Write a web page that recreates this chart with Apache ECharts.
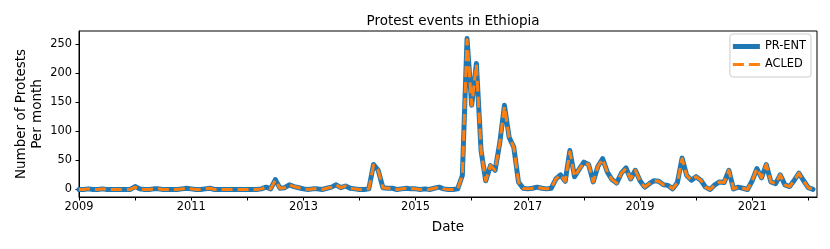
<!DOCTYPE html>
<html>
<head>
<meta charset="utf-8">
<script src="https://cdn.jsdelivr.net/npm/echarts@6/dist/echarts.min.js"></script>
<style>
html,body{margin:0;padding:0;background:#fff;}
#c{width:830px;height:249px;}
</style>
</head>
<body>
<div id="c"></div>
<script>
// Monthly protest counts, Jan 2009 .. Feb 2022
const firstMonth = '2009-01';
const prEnt = [
  0,0,1,0,0,1,0,0,0,0,0,0,
  5,1,0,0,1,1,0,0,0,0,1,2,
  1,0,0,1,2,0,0,0,0,0,0,0,
  0,0,0,1,4,1,17,2,3,8,5,3,
  1,0,1,1,0,2,4,8,3,6,2,1,
  0,0,1,43,33,3,2,2,0,1,2,1,
  1,0,1,0,2,4,1,0,0,1,24,260,
  145,217,67,15,41,33,80,145,90,73,13,2,
  1,2,4,2,1,2,18,25,14,67,22,35,
  47,43,13,40,53,30,17,11,28,37,18,33,
  15,4,10,15,14,8,7,1,12,54,24,16,
  22,16,4,0,8,13,12,33,1,4,2,0,
  15,36,20,43,13,10,25,8,5,16,28,15,
  3,0
];
const acled = [
  0,0,1,0,0,1,0,0,0,0,0,0,
  4,1,0,0,1,1,0,0,0,0,1,2,
  1,0,0,1,2,0,0,0,0,0,0,0,
  0,0,0,1,4,1,16,2,3,8,5,3,
  1,0,1,1,0,2,4,8,3,6,2,1,
  0,0,1,42,33,3,2,2,0,1,2,1,
  1,0,1,0,2,4,1,0,0,1,24,258,
  145,215,67,15,41,33,80,143,90,73,13,2,
  1,2,4,2,1,2,18,25,14,65,22,35,
  46,43,13,40,52,30,17,11,28,36,18,33,
  15,4,10,15,14,8,7,1,12,53,24,16,
  22,16,4,0,8,13,12,33,1,4,2,0,
  15,36,20,43,13,10,25,8,5,16,28,15,
  3,0
];
const xTickYears = [2009,2010,2011,2012,2013,2014,2015,2016,2017,2018,2019,2020,2021,2022];
const xTickLabels = [2009,2011,2013,2015,2017,2019,2021];
const yTicks = [0,50,100,150,200,250];

// month strings -> fractional year positions
const [y0, m0] = firstMonth.split('-').map(Number);
const dates = prEnt.map((_, i) => {
  const t = (m0 - 1) + i;
  const y = y0 + Math.floor(t / 12), m = (t % 12) + 1;
  return y + '-' + String(m).padStart(2, '0');
});
const toX = d => { const [y, m] = d.split('-').map(Number); return y + (m - 1) / 12; };

const font = 'DejaVu Sans';
const chart = echarts.init(document.getElementById('c'), null, {renderer: 'canvas'});
chart.setOption({
  animation: false,
  backgroundColor: '#fff',
  title: {
    text: 'Protest events in Ethiopia',
    left: 448, top: 9, textAlign: 'center',
    textStyle: {fontFamily: font, fontSize: 13.5, fontWeight: 'normal', color: '#000'}
  },
  legend: {
    right: 19, top: 34, orient: 'vertical',
    itemWidth: 27, itemHeight: 5, itemGap: 3,
    padding: [5, 5, 5, 3],
    borderColor: '#cccccc', borderWidth: 1, borderRadius: 3,
    backgroundColor: 'rgba(255,255,255,0.8)',
    textStyle: {fontFamily: font, fontSize: 11.4, color: '#000', lineHeight: 15},
    data: [
      {name: 'PR-ENT', icon: 'rect'},
      {name: 'ACLED', icon: 'path://M0,0h11v3h-11z M16,0h11v3h-11z'}
    ]
  },
  grid: {left: 79, right: 13, top: 31, bottom: 52, show: true, borderColor: '#000', borderWidth: 1, backgroundColor: 'transparent'},
  xAxis: {
    type: 'value', min: 2009, max: 2022.155,
    name: 'Date', nameLocation: 'middle', nameGap: 23, nameMoveOverlap: false,
    nameTextStyle: {fontFamily: font, fontSize: 13.5, color: '#000'},
    axisLine: {show: true, onZero: false, lineStyle: {color: '#000', width: 1}},
    axisTick: {show: true, length: 3.5, lineStyle: {color: '#000'}, customValues: xTickYears},
    axisLabel: {fontFamily: font, fontSize: 11.4, color: '#000', margin: 5, customValues: xTickLabels, formatter: v => String(v)},
    splitLine: {show: false}
  },
  yAxis: {
    type: 'value', min: -13, max: 273,
    name: 'Number of Protests\nPer month', nameLocation: 'middle', nameGap: 34, nameRotate: 90, nameMoveOverlap: false,
    nameTextStyle: {fontFamily: font, fontSize: 13.5, color: '#000', lineHeight: 16, align: 'center'},
    axisLine: {show: true, onZero: false, lineStyle: {color: '#000', width: 1}},
    axisTick: {show: true, length: 3.5, lineStyle: {color: '#000'}, customValues: yTicks},
    axisLabel: {fontFamily: font, fontSize: 11.4, color: '#000', margin: 7, customValues: yTicks},
    splitLine: {show: false}
  },
  series: [
    {
      name: 'PR-ENT', type: 'line', showSymbol: false, symbol: 'none',
      data: dates.map((d, i) => [toX(d), prEnt[i]]),
      lineStyle: {color: '#1f77b4', width: 5, cap: 'round', join: 'round'},
      itemStyle: {color: '#1f77b4'},
      z: 2
    },
    {
      name: 'ACLED', type: 'line', showSymbol: false, symbol: 'none',
      data: dates.map((d, i) => [toX(d), acled[i]]),
      lineStyle: {color: '#ff7f0e', width: 3, type: [11, 5], cap: 'butt', join: 'round'},
      itemStyle: {color: '#ff7f0e'},
      z: 3
    }
  ]
});
</script>
</body>
</html>
